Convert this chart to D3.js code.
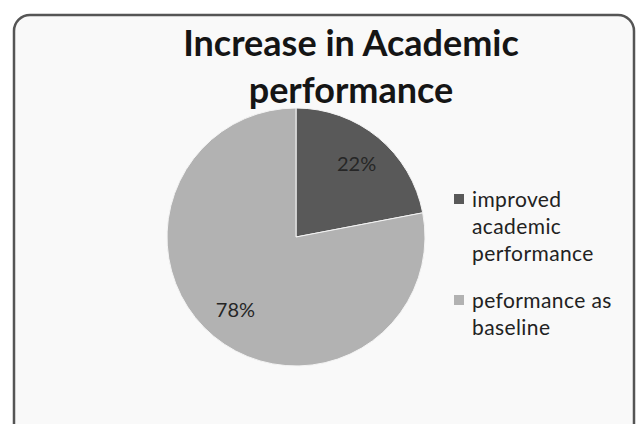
<!DOCTYPE html>
<html>
<head>
<meta charset="utf-8">
<script src="https://cdn.jsdelivr.net/npm/d3@7"></script>
<style>
  body { margin: 0; background: #fff; }
  svg { display: block; font-family: Lato, "Open Sans", sans-serif; }
</style>
</head>
<body>
<svg id="chart"></svg>
<script>
// chart data
const categories = ['improved academic performance', 'peformance as baseline']
const values = [22, 78]
const legendLines = [['improved', 'academic', 'performance'], ['peformance as', 'baseline']]
const titleLines = ['Increase in Academic', 'performance']
const colors = ['#595959', '#b2b2b2']

const width = 639, height = 424
const svg = d3.select('#chart').attr('width', width).attr('height', height)

// frame
svg.append('rect')
  .attr('x', 14).attr('y', 15)
  .attr('width', 620).attr('height', 430)
  .attr('rx', 16)
  .attr('fill', '#f9f9f9')
  .attr('stroke', '#555')
  .attr('stroke-width', 2.5)

// title
svg.append('g')
  .selectAll('text')
  .data(titleLines)
  .join('text')
    .attr('x', 351)
    .attr('y', (d, i) => 56 + i * 47)
    .attr('text-anchor', 'middle')
    .attr('font-size', 36)
    .attr('font-weight', 'bold')
    .attr('fill', '#151515')
    .text(d => d)

// pie
const cx = 296, cy = 237, r = 129
const pie = d3.pie().sort(null).value(d => d)
const arc = d3.arc().innerRadius(0).outerRadius(r)
const labelArc = d3.arc().innerRadius(95).outerRadius(95)
const color = d3.scaleOrdinal().domain(d3.range(values.length)).range(colors)

const g = svg.append('g').attr('transform', `translate(${cx},${cy})`)
const slices = pie(values)

g.selectAll('path')
  .data(slices)
  .join('path')
    .attr('d', arc)
    .attr('fill', (d, i) => color(i))
    .attr('stroke', '#f4f4f4')
    .attr('stroke-width', 1)

g.selectAll('text')
  .data(slices)
  .join('text')
    .attr('transform', d => `translate(${labelArc.centroid(d)})`)
    .attr('text-anchor', 'middle')
    .attr('dy', '0.35em')
    .attr('font-size', 20)
    .attr('fill', '#262626')
    .text(d => d.data + '%')

// legend
const legendY = [207, 308]
const legend = svg.append('g')
  .selectAll('g')
  .data(categories)
  .join('g')
    .attr('transform', (d, i) => `translate(454,${legendY[i]})`)

legend.append('rect')
  .attr('x', 0).attr('y', -13)
  .attr('width', 10).attr('height', 10)
  .attr('fill', (d, i) => color(i))

legend.append('text')
  .attr('font-size', 21)
  .attr('letter-spacing', 0.4)
  .attr('fill', '#222')
  .selectAll('tspan')
  .data((d, i) => legendLines[i])
  .join('tspan')
    .attr('x', 18)
    .attr('y', (d, j) => j * 27)
    .text(d => d)
</script>
</body>
</html>
